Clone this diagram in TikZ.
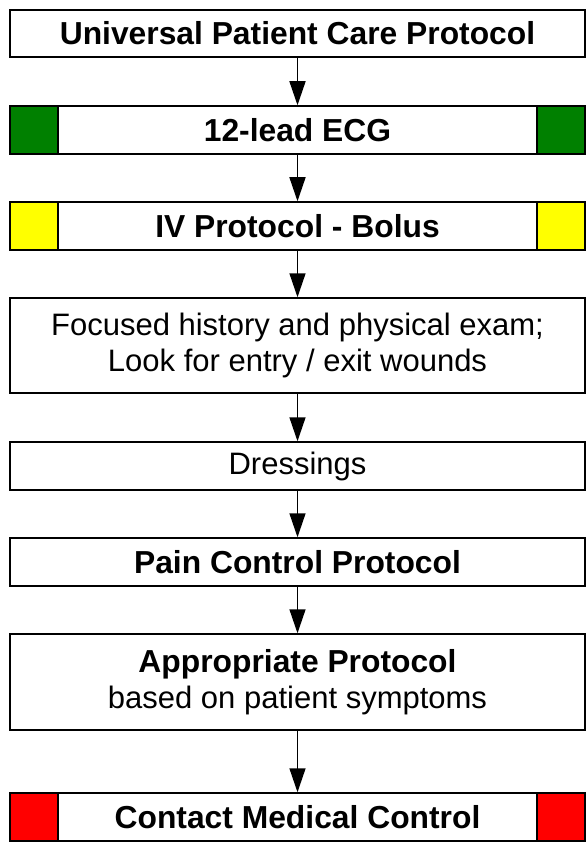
\documentclass[tikz,border=0pt]{standalone}
\usepackage{fontspec}
\setmainfont{Liberation Sans}
\usepackage{xcolor}
\usepackage{tikz}
\usetikzlibrary{
    arrows.meta
}
\definecolor{ecggreen}{HTML}{008000}
\definecolor{ivyellow}{HTML}{FFFF00}
\definecolor{mcred}{HTML}{FF0000}
\newcommand{\stephead}[1]{{\fontsize{31.8}{36}\selectfont\bfseries #1}}

\begin{document}
\begin{tikzpicture}[x=1pt,y=-1pt,line width=1.5pt,
    >={Triangle[width=16pt,length=24pt]}]
    \tikzstyle{stepbox}=[draw, rectangle, minimum width=575pt, align=center,
        inner sep=0pt, font=\fontsize{31}{36}\selectfont]
    \tikzstyle{swatch}=[draw, rectangle, minimum width=48pt, minimum height=48pt,
        inner sep=0pt, anchor=north west]
    \useasboundingbox (0, 0) rectangle (586, 842);
	\node [stepbox, minimum height=47pt] (upc) at (297.5, 33.5) {\stephead{Universal Patient Care Protocol}};
	\node [stepbox, minimum height=48pt] (ecg) at (297.5, 130) {\stephead{12-lead ECG}};
	\node [stepbox, minimum height=48pt] (iv) at (297.5, 226) {\stephead{IV Protocol - Bolus}};
	\node [stepbox, minimum height=95pt] (hist) at (297.5, 345.5)
	{Focused history and physical exam;\\ Look for entry / exit wounds};
	\node [stepbox, minimum height=48pt] (dress) at (297.5, 466) {Dressings};
	\node [stepbox, minimum height=48pt] (pain) at (297.5, 562) {\stephead{Pain Control Protocol}};
	\node [stepbox, minimum height=96pt] (appr) at (297.5, 682)
	{\stephead{Appropriate Protocol}\\ based on patient symptoms};
	\node [stepbox, minimum height=48pt] (mc) at (297.5, 817) {\stephead{Contact Medical Control}};

	% colour markers
	\node [swatch, fill=ecggreen] (ecgl) at (ecg.north west) {};
	\node [swatch, fill=ecggreen, anchor=north east] (ecgr) at (ecg.north east) {};
	\node [swatch, fill=ivyellow] (ivl) at (iv.north west) {};
	\node [swatch, fill=ivyellow, anchor=north east] (ivr) at (iv.north east) {};
	\node [swatch, fill=mcred] (mcl) at (mc.north west) {};
	\node [swatch, fill=mcred, anchor=north east] (mcr) at (mc.north east) {};

	\draw [->] (upc) -- (ecg);
	\draw [->] (ecg) -- (iv);
	\draw [->] (iv) -- (hist);
	\draw [->] (hist) -- (dress);
	\draw [->] (dress) -- (pain);
	\draw [->] (pain) -- (appr);
	\draw [->] (appr) -- (mc);
\end{tikzpicture}
\end{document}
